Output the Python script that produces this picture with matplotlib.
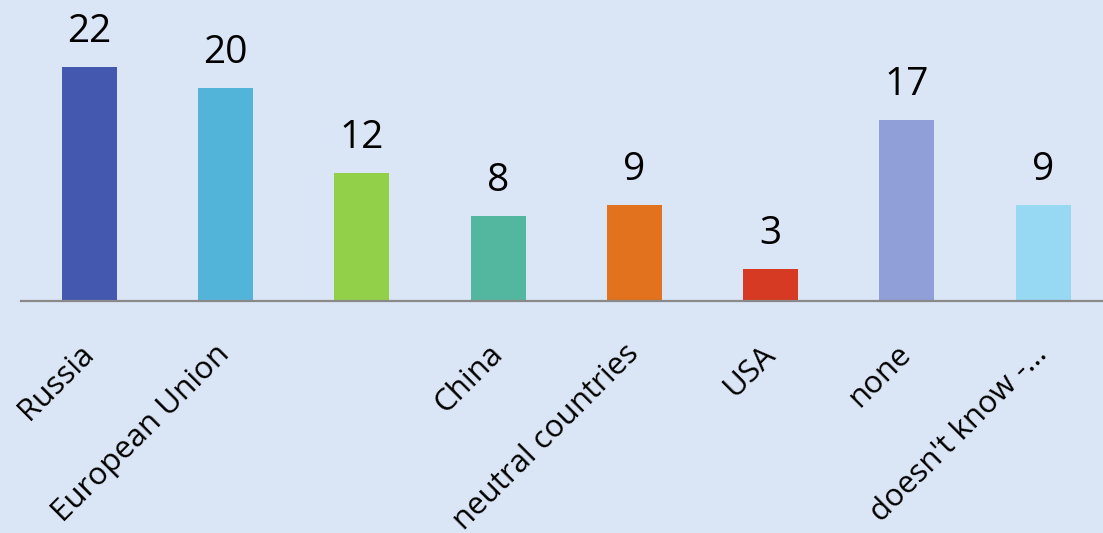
import matplotlib
matplotlib.use("Agg")
import matplotlib.pyplot as plt

categories = ["Russia", "European Union", "", "China", "neutral countries",
              "USA", "none", "doesn't know -..."]
values = [22, 20, 12, 8, 9, 3, 17, 9]
colors = ["#4458B0", "#52B4D9", "#92D04A", "#52B79E", "#E2721D",
          "#D63A22", "#919FD8", "#97D8F2"]

BG = "#DAE6F5"
W, H = 1103, 533
DPI = 100

plt.rcParams["font.family"] = ["Open Sans", "DejaVu Sans"]

fig = plt.figure(figsize=(W / DPI, H / DPI), dpi=DPI, facecolor=BG)
# plot area: baseline at y=301 px, slots 136.3 px wide starting at x=21
left_px, base_px, top_px = 21, 301, 0
ax = fig.add_axes([left_px / W, (H - base_px) / H,
                   (W - left_px) / W, (base_px - top_px) / H])
ax.set_facecolor(BG)

x = range(len(values))
ax.bar(x, values, width=55 / 136.3, color=colors, zorder=2)

slot = 136.3
ax.set_xlim(-0.5, -0.5 + (W - left_px) / slot)
ax.set_ylim(0, (base_px - top_px) / 10.64)

for xi, v in zip(x, values):
    ax.annotate(str(v), (xi, v), xytext=(0, 11.5), textcoords="offset points",
                ha="center", va="bottom", fontsize=28, color="black")

ax.set_xticks(list(x))
ax.set_xticklabels(categories, rotation=45, ha="right", va="center",
                   rotation_mode="anchor", fontsize=22.5)
ax.tick_params(axis="x", length=0, pad=35)
ax.set_yticks([])
for side in ("top", "right", "left"):
    ax.spines[side].set_visible(False)
ax.spines["bottom"].set_color("#898989")
ax.spines["bottom"].set_linewidth(1.6)

fig.savefig("out.png", dpi=DPI, facecolor=BG)
